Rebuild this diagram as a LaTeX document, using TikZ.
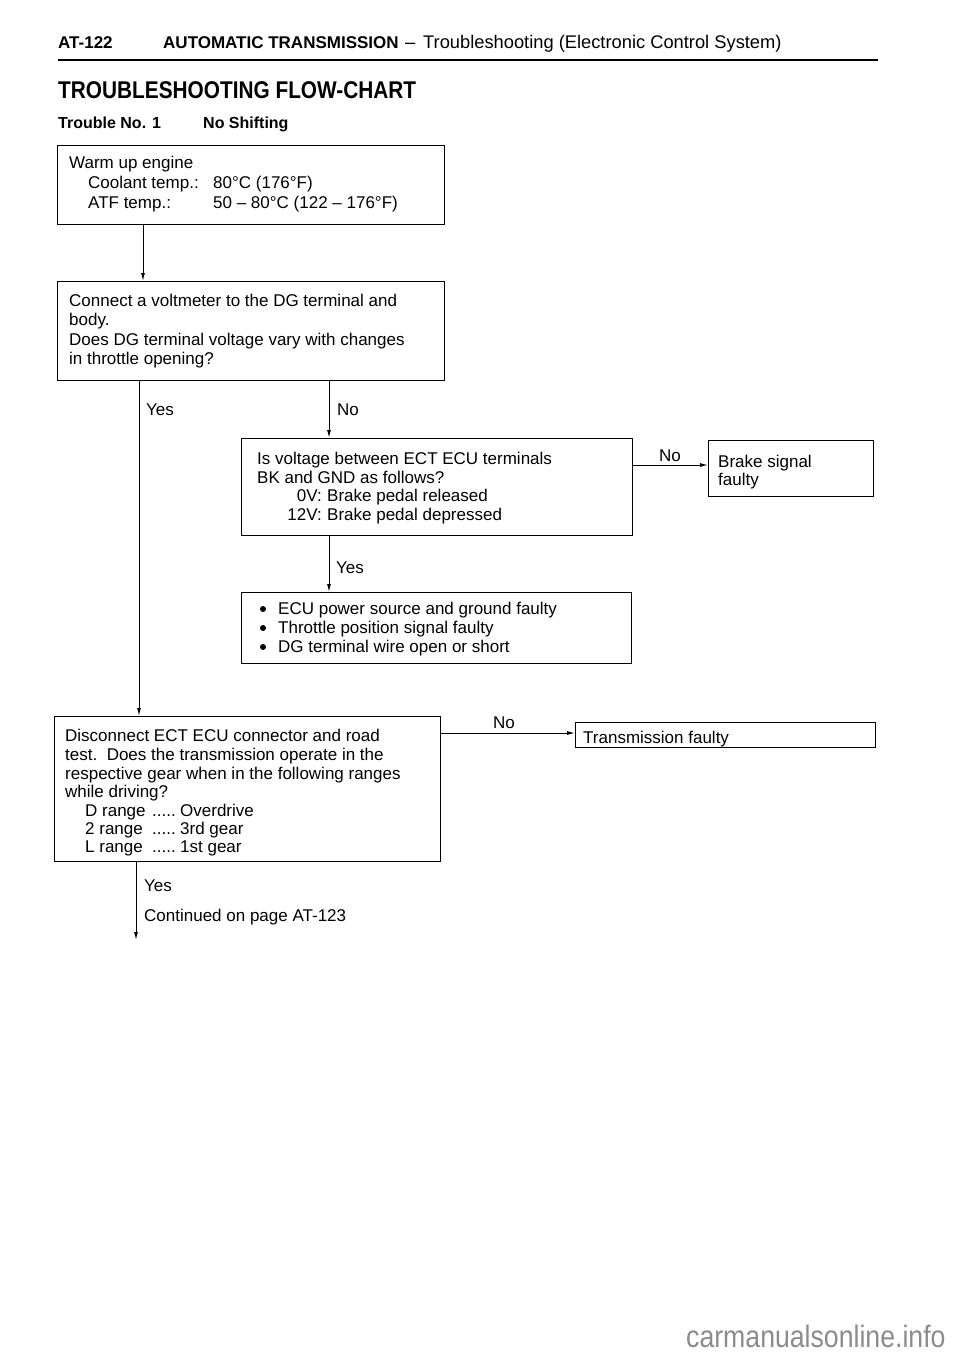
\documentclass[tikz,border=0pt]{standalone}
\usepackage{fontspec}
\setmainfont{Liberation Sans}
\newfontfamily\cond[FakeStretch=0.86]{Liberation Sans}
\usetikzlibrary{arrows.meta}
\begin{document}
\begin{tikzpicture}[x=1pt,y=-1pt,
  box/.style={draw, line width=1.4pt, rectangle, inner sep=0pt, anchor=north west},
  conn/.style={line width=1pt},
  arr/.style={conn, -{Latex[length=8pt,width=4pt]}},
  txt/.style={anchor=base west, inner sep=0pt, font=\fontsize{17}{20}\selectfont},
  hdrb/.style={anchor=base west, inner sep=0pt, font=\bfseries\fontsize{17}{20}\selectfont},
  hdr/.style={anchor=base west, inner sep=0pt, font=\fontsize{18.3}{21}\selectfont},
  ttl/.style={anchor=base west, inner sep=0pt, font=\cond\bfseries\fontsize{24.2}{27}\selectfont},
  sub/.style={anchor=base west, inner sep=0pt, font=\bfseries\fontsize{16}{19}\selectfont},
  dot/.style={circle, fill, inner sep=0pt, minimum size=6pt},
  wm/.style={anchor=base west, inner sep=0pt, text=black!45, font=\cond\fontsize{31}{34}\selectfont}]
\useasboundingbox[fill=white] (0,0) rectangle (960,1356);

% header
\node[hdrb] (h1) at (58,49) {AT-122};
\node[hdrb] (h2) at (163,49) {AUTOMATIC TRANSMISSION};
\node[hdr] (h3) at (405,49) {–};
\node[hdr] (h4) at (423,49) {Troubleshooting (Electronic Control System)};
\coordinate (rl) at (58,60);
\coordinate (rr) at (878,60);
\draw[line width=2.6pt] (rl) -- (rr);
\node[ttl] (t1) at (58,99) {TROUBLESHOOTING FLOW-CHART};
\node[sub] (t2) at (58,129) {Trouble No. 1};
\node[sub] (t3) at (203,129) {No Shifting};

% boxes
\node[box, minimum width=387pt, minimum height=79pt] (b1) at (57,145) {};
\node[box, minimum width=387pt, minimum height=99pt] (b2) at (57,281) {};
\node[box, minimum width=391pt, minimum height=97pt] (b3) at (241,438) {};
\node[box, minimum width=165pt, minimum height=56pt] (bs) at (708,440) {};
\node[box, minimum width=390pt, minimum height=71pt] (b5) at (241,592) {};
\node[box, minimum width=386pt, minimum height=145pt] (b4) at (54,716) {};
\node[box, minimum width=300pt, minimum height=25pt] (bt) at (575,722) {};

% box texts
\node[txt] (b1a) at (69,169) {Warm up engine};
\node[txt] (b1b) at (88,189) {Coolant temp.:};
\node[txt] (b1c) at (213,189) {80°C (176°F)};
\node[txt] (b1d) at (88,209) {ATF temp.:};
\node[txt] (b1e) at (213,209) {50 – 80°C (122 – 176°F)};

\node[txt] (b2a) at (69,306) {Connect a voltmeter to the DG terminal and};
\node[txt] (b2b) at (69,325) {body.};
\node[txt] (b2c) at (69,345) {Does DG terminal voltage vary with changes};
\node[txt] (b2d) at (69,364) {in throttle opening?};

\node[txt] (b3a) at (257,464) {Is voltage between ECT ECU terminals};
\node[txt] (b3b) at (257,483) {BK and GND as follows?};
\node[txt, anchor=base east] (b3c) at (322,501) {0V:};
\node[txt] (b3d) at (327,501) {Brake pedal released};
\node[txt, anchor=base east] (b3e) at (322,520) {12V:};
\node[txt] (b3f) at (327,520) {Brake pedal depressed};

\node[txt] (bsa) at (718,467) {Brake signal};
\node[txt] (bsb) at (718,485) {faulty};

\node[dot] (b5a) at (263,609) {};
\node[txt] (b5b) at (278,614) {ECU power source and ground faulty};
\node[dot] (b5c) at (263,628) {};
\node[txt] (b5d) at (278,633) {Throttle position signal faulty};
\node[dot] (b5e) at (263,647) {};
\node[txt] (b5f) at (278,652) {DG terminal wire open or short};

\node[txt] (b4a) at (65,741) {Disconnect ECT ECU connector and road};
\node[txt] (b4b) at (65,760) {test.\ \ Does the transmission operate in the};
\node[txt] (b4c) at (65,779) {respective gear when in the following ranges};
\node[txt] (b4d) at (65,797) {while driving?};
\node[txt] (b4e) at (85,816) {D range};
\node[txt] (b4f) at (152,816) {.....};
\node[txt] (b4g) at (180,816) {Overdrive};
\node[txt] (b4h) at (85,834) {2 range};
\node[txt] (b4i) at (152,834) {.....};
\node[txt] (b4j) at (180,834) {3rd gear};
\node[txt] (b4k) at (85,852) {L range};
\node[txt] (b4l) at (152,852) {.....};
\node[txt] (b4m) at (180,852) {1st gear};

\node[txt] (bta) at (583,743) {Transmission faulty};

% connector guide coordinates
\coordinate (x143) at (143,0);
\coordinate (x139) at (139,0);
\coordinate (x329) at (329,0);
\coordinate (y465) at (0,465);
\coordinate (y733) at (0,733);
\coordinate (x136) at (136,0);
\coordinate (endc) at (136,940);

% connectors
\draw[arr] (b1.south -| x143) -- (b2.north -| x143);
\draw[arr] (b2.south -| x139) -- (b4.north -| x139);
\draw[arr] (b2.south -| x329) -- (b3.north -| x329);
\draw[arr] (b3.south -| x329) -- (b5.north -| x329);
\draw[arr] (b3.east |- y465) -- (bs.west |- y465);
\draw[arr] (b4.east |- y733) -- (bt.west |- y733);
\draw[arr] (b4.south -| x136) -- (endc);

% labels
\node[txt] (l1) at (146,415) {Yes};
\node[txt] (l2) at (337,415) {No};
\node[txt] (l3) at (659,461) {No};
\node[txt] (l4) at (336,573) {Yes};
\node[txt] (l5) at (493,728) {No};
\node[txt] (l6) at (144,891) {Yes};
\node[txt] (l7) at (144,921) {Continued on page AT-123};

% watermark
\node[wm] (wmk) at (686,1347) {carmanualsonline.info};
\end{tikzpicture}
\end{document}
